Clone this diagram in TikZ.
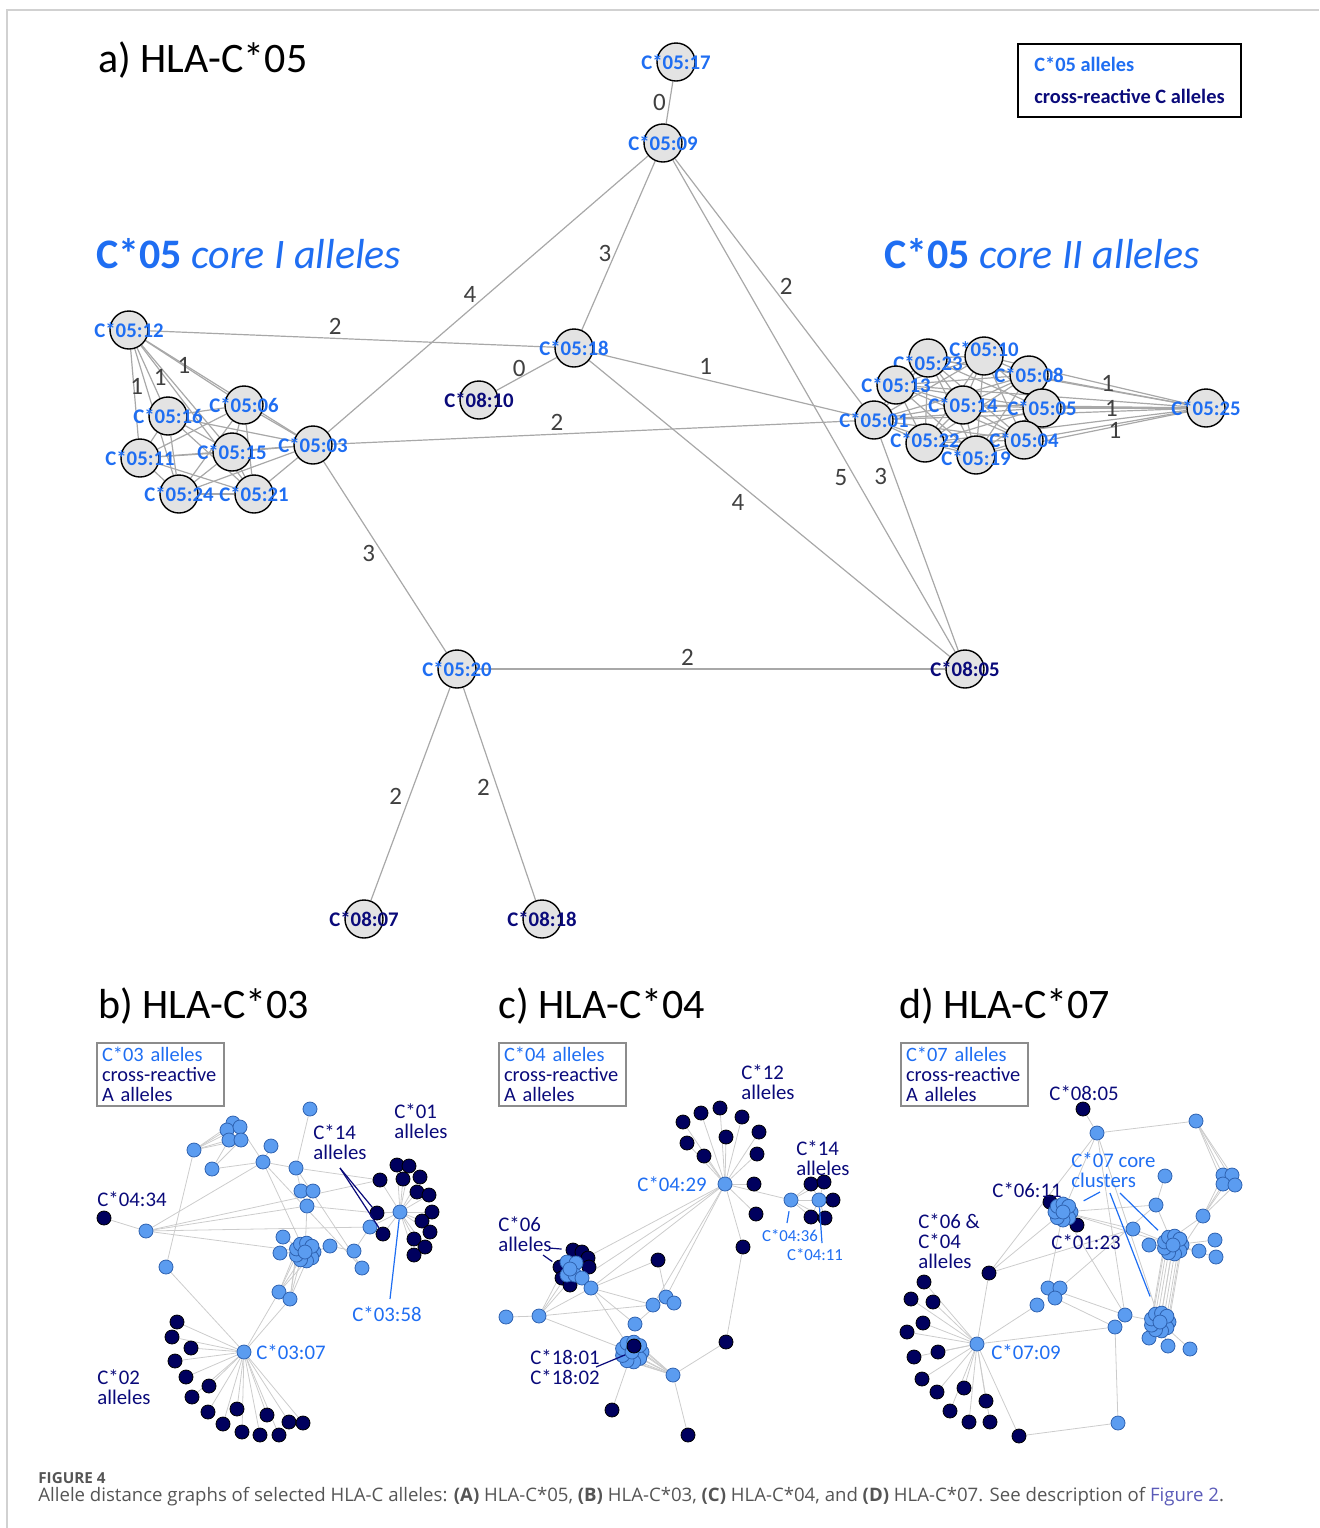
\documentclass[tikz,border=0pt]{standalone}
\usepackage{fontspec}
\setmainfont{Carlito}
\newfontfamily\capfont{Open Sans}
\usetikzlibrary{calc,backgrounds}

\definecolor{alblue}{HTML}{1F6EF2}
\definecolor{alnavy}{HTML}{0A0A7A}
\definecolor{nodegray}{HTML}{E3E3E3}
\definecolor{edgegray}{HTML}{A8A8A8}
\definecolor{litegray}{HTML}{CCCCCC}
\definecolor{ltblue}{HTML}{5B9CF0}
\definecolor{ltrim}{HTML}{2F62B0}
\definecolor{dkblue}{HTML}{00005E}
\definecolor{capgray}{HTML}{555555}
\definecolor{figlink}{HTML}{5A5AB8}

\tikzset{
  anode/.style={circle, draw=black, line width=0.7pt, fill=nodegray, minimum size=19pt, inner sep=0pt},
  alab/.style={font=\fontsize{10.4}{12}\selectfont\bfseries, inner sep=0pt},
  c05/.style={anode, label={[alab, text=alblue]center:#1}},
  c08/.style={anode, label={[alab, text=alnavy]center:#1}},
  aedge/.style={draw=edgegray, line width=0.6pt},
  elab/.style={font=\fontsize{12.5}{13}\selectfont, text=black!75, inner sep=1.5pt},
  ptitle/.style={font=\fontsize{21}{24}\selectfont, anchor=base west, inner sep=0pt},
  corehd/.style={font=\fontsize{21}{24}\selectfont, text=alblue, anchor=base west, inner sep=0pt},
  lnode/.style={circle, draw=ltrim, line width=0.4pt, fill=ltblue, minimum size=7pt, inner sep=0pt},
  dnode/.style={circle, draw=black, line width=0.4pt, fill=dkblue, minimum size=7pt, inner sep=0pt},
  bedge/.style={draw=litegray, line width=0.4pt},
  btxt/.style={font=\fontsize{10.4}{10}\selectfont, align=left, inner sep=0pt},
  navyptr/.style={draw=alnavy, line width=0.6pt},
  blueptr/.style={draw=alblue, line width=0.6pt},
  smleg/.style={draw=black!45, line width=0.6pt, minimum width=63.5pt, minimum height=31.5pt,
    text width=58.5pt, inner xsep=2.5pt, inner ysep=0pt, align=left, font=\fontsize{10.2}{10}\selectfont}
}

\begin{document}
\begin{tikzpicture}[x=0.5pt, y=-0.5pt]
\useasboundingbox (0,0) rectangle (1319,1528);
\draw[black!18, line width=0.7pt] (7,1528) -- (7,10) -- (1319,10);

% ---------------- a) HLA-C*05
\node[ptitle] (ta) at (98,72) {a) HLA-C*05};
\node[draw=black, line width=0.8pt, minimum width=111.5pt, minimum height=36.5pt, inner sep=0pt,
  align=left, font=\fontsize{10.2}{16}\selectfont\bfseries] (lga)
  at (1129.5,80.5) {\textcolor{alblue}{C*05 alleles}\\\textcolor{alnavy}{cross-reactive C alleles}};
\node[corehd] (hdI) at (96,268) {\textbf{C*05} \textit{core I alleles}};
\node[corehd] (hdII) at (884,268) {\textbf{C*05} \textit{core II alleles}};

\node[c05=C*05:17] (n0517) at (676,62) {};
\node[c05=C*05:09] (n0509) at (663,143) {};
\node[c05=C*05:18] (n0518) at (574,348) {};
\node[c08=C*08:10] (n0810) at (479,400) {};
% core I
\node[c05=C*05:12] (n0512) at (129,330) {};
\node[c05=C*05:16] (n0516) at (168,416) {};
\node[c05=C*05:06] (n0506) at (244,405) {};
\node[c05=C*05:11] (n0511) at (140,458) {};
\node[c05=C*05:15] (n0515) at (232,452) {};
\node[c05=C*05:03] (n0503) at (313,445) {};
\node[c05=C*05:24] (n0524) at (179,494) {};
\node[c05=C*05:21] (n0521) at (254,494) {};
% core II
\node[anode, label={[alab, text=alblue, yshift=-2.5pt]center:C*05:23}] (n0523) at (928,358) {};
\node[anode, label={[alab, text=alblue, yshift=3.5pt]center:C*05:10}] (n0510) at (984,356) {};
\node[c05=C*05:08] (n0508) at (1029,375) {};
\node[c05=C*05:13] (n0513) at (896,385) {};
\node[c05=C*05:14] (n0514) at (963,405) {};
\node[c05=C*05:05] (n0505) at (1042,408) {};
\node[c05=C*05:01] (n0501) at (874,420) {};
\node[anode, label={[alab, text=alblue, yshift=1.5pt]center:C*05:22}] (n0522) at (925,443) {};
\node[c05=C*05:04] (n0504) at (1024,440) {};
\node[anode, label={[alab, text=alblue, yshift=-1.5pt]center:C*05:19}] (n0519) at (976,455) {};
\node[c05=C*05:25] (n0525) at (1206,408) {};
% lower part
\node[c05=C*05:20] (n0520) at (457,669) {};
\node[c08=C*08:05] (n0805) at (965,669) {};
\node[c08=C*08:07] (n0807) at (364,919) {};
\node[c08=C*08:18] (n0818) at (542,919) {};

\begin{scope}[on background layer]
  \draw[aedge] (n0517) -- node[elab, left] {0} (n0509);
  \draw[aedge] (n0509) -- node[elab, pos=.55, left] {3} (n0518);
  \draw[aedge] (n0509) -- node[elab, pos=.5, left=4pt] {4} (n0503);
  \draw[aedge] (n0509) -- node[elab, pos=.52, right=2pt] {2} (n0501);
  \draw[aedge] (n0509) -- node[elab, pos=.645, left=2pt] {5} (n0805);
  \draw[aedge] (n0501) -- node[elab, pos=.18, left=2pt] {3} (n0805);
  \draw[aedge] (n0512) -- node[elab, pos=.46, above] {2} (n0518);
  \draw[aedge] (n0518) -- node[elab, pos=.62, above=-1pt] {0} (n0810);
  \draw[aedge] (n0518) -- node[elab, pos=.43, above=1pt] {1} (n0501);
  \draw[aedge] (n0503) -- node[elab, pos=.43, above] {2} (n0501);
  \draw[aedge] (n0518) -- node[elab, pos=.44, below left] {4} (n0805);
  \draw[aedge] (n0503) -- node[elab, pos=.48, left=2pt] {3} (n0520);
  \draw[aedge] (n0520) -- node[elab, pos=.45, above] {2} (n0805);
  \draw[aedge] (n0520) -- node[elab, pos=.51, left=2pt] {2} (n0807);
  \draw[aedge] (n0520) -- node[elab, pos=.47, left=2pt] {2} (n0818);
  % core I clique
  \foreach \u [count=\i] in {n0512,n0516,n0506,n0511,n0515,n0503,n0524,n0521}
    \foreach \v [count=\j] in {n0512,n0516,n0506,n0511,n0515,n0503,n0524,n0521}
      {\ifnum\i<\j \draw[aedge] (\u) -- (\v); \fi}
  \path (n0512) -- node[elab, pos=.47] {1} (n0506);
  \path (n0512) -- node[elab, pos=.24, xshift=-2.5pt] {1} (n0521);
  \path (n0512) -- node[elab, pos=.41, xshift=1.5pt] {1} (n0511);
  % core II clique
  \foreach \u [count=\i] in {n0523,n0510,n0508,n0513,n0514,n0505,n0501,n0522,n0504,n0519}
    {\draw[aedge] (\u) -- (n0525);
     \foreach \v [count=\j] in {n0523,n0510,n0508,n0513,n0514,n0505,n0501,n0522,n0504,n0519}
      {\ifnum\i<\j \draw[aedge] (\u) -- (\v); \fi}}
  \path (n0508) -- node[elab, pos=.43, yshift=3pt] {1} (n0525);
  \path (n0505) -- node[elab, pos=.4] {1} (n0525);
  \path (n0504) -- node[elab, pos=.5, yshift=-3pt] {1} (n0525);
\end{scope}

% ---------------- b) HLA-C*03
\node[ptitle] (tb) at (98,1018) {b) HLA-C*03};
\node[smleg] (lgb) at (160.5,1074.5) {\textcolor{alblue}{C*03 alleles}\\\textcolor{alnavy}{cross-reactive}\\\textcolor{alnavy}{A alleles}};
\node[dnode] (b0) at (104,1218) {};
\foreach \p [count=\i] in {{(380,1180)},{(377,1213)},{(383,1234)}}
  \node[dnode] (bK\i) at \p {};
\foreach \p [count=\i] in {{(397,1165)},{(409,1166)},{(403,1179)},{(420,1177)},{(417,1192)},{(429,1195)},
  {(432,1212)},{(422,1221)},{(430,1232)},{(414,1239)},{(425,1247)},{(414,1255)}}
  \node[dnode] (bA\i) at \p {};
\foreach \p [count=\i] in {{(177,1322)},{(172,1337)},{(191,1348)},{(175,1361)},{(186,1377)},{(209,1386)},
  {(192,1397)},{(208,1412)},{(237,1409)},{(223,1424)},{(267,1415)},{(242,1432)},{(260,1435)},{(279,1435)},
  {(289,1422)},{(303,1423)}}
  \node[dnode] (bB\i) at \p {};
\foreach \n/\p in {b1/{(310,1109)}, bt1/{(233,1123)}, bt2/{(227,1130)}, bt3/{(240,1127)}, bt4/{(229,1140)},
  bt5/{(241,1140)}, b3/{(194,1150)}, b4/{(212,1169)}, b5/{(271,1146)}, b6/{(263,1162)}, b7/{(296,1168)},
  b8/{(301,1191)}, b9/{(313,1191)}, b10/{(307,1206)}, b11/{(146,1231)}, b12/{(166,1267)}, b13/{(283,1237)},
  b14/{(280,1253)}, b15/{(330,1246)}, b16/{(354,1251)}, b17/{(362,1268)}, b18/{(370,1227)}, b19/{(400,1212)},
  b20/{(279,1292)}, b21/{(290,1299)}, b22/{(244,1352)}}
  \node[lnode] (\n) at \p {};
\foreach \a [count=\i] in {0,40,...,320}
  \node[lnode] (bc\i) at ($(305,1252)+(\a:9)$) {};
\node[lnode] (bc0) at (305,1252) {};

\node[btxt, text=alnavy, anchor=west] (tb14) at (313,1142) {C*14\\alleles};
\node[btxt, text=alnavy, anchor=west] (tb01) at (394,1121) {C*01\\alleles};
\node[btxt, text=alnavy, anchor=west] (tb0434) at (97,1199) {C*04:34};
\node[btxt, text=alblue, anchor=west] (tb0358) at (352,1314) {C*03:58};
\node[btxt, text=alblue, anchor=west] (tb0307) at (256,1352) {C*03:07};
\node[btxt, text=alnavy, anchor=west] (tb02) at (97,1387) {C*02\\alleles};
\coordinate (pb14) at (340,1168);
\coordinate (pb0358) at (390,1299);
\draw[navyptr] (pb14) -- (bK2);
\draw[navyptr] (pb14) -- (bK3);
\draw[blueptr] (pb0358) -- (b19);

\begin{scope}[on background layer]
  \foreach \u/\v in {b0/b11, b11/b18, b11/b10, b11/bc0, b11/b6, b11/bK1, b3/b12, b12/b22, b4/bt4, b4/bt5,
    b4/b6, bt3/b6, b5/b6, b6/b7, b6/bc0, b6/b17, b1/b7, b7/bK1, b7/b17, b7/b8, b8/b10, b9/b10, b10/bc0,
    b10/bK2, bc0/b13, bc0/b14, bc1/b15, b15/b16, b16/b18, b18/b19, b20/b22, b21/b22}
    \draw[bedge] (\u) -- (\v);
  \foreach \i in {1,...,5} \draw[bedge] (b3) -- (bt\i);
  \foreach \i in {3,4,5,6} {\draw[bedge] (bc\i) -- (b20); \draw[bedge] (bc\i) -- (b21);}
  \foreach \i in {1,...,12} \draw[bedge] (b19) -- (bA\i);
  \foreach \i in {1,2,3} \draw[bedge] (b19) -- (bK\i);
  \foreach \i in {1,...,16} \draw[bedge] (b22) -- (bB\i);
\end{scope}

% ---------------- c) HLA-C*04
\node[ptitle] (tc) at (498,1018) {c) HLA-C*04};
\node[smleg] (lgc) at (562.5,1074.5) {\textcolor{alblue}{C*04 alleles}\\\textcolor{alnavy}{cross-reactive}\\\textcolor{alnavy}{A alleles}};
\foreach \p [count=\i] in {{(683,1122)},{(701,1113)},{(720,1108)},{(742,1117)},{(759,1132)},{(687,1143)},
  {(726,1137)},{(704,1156)},{(757,1154)},{(754,1184)},{(756,1214)}}
  \node[dnode] (cA\i) at \p {};
\foreach \p [count=\i] in {{(811,1184)},{(824,1182)},{(833,1200)},{(811,1217)},{(825,1218)}}
  \node[dnode] (cB\i) at \p {};
\foreach \p [count=\i] in {{(573,1250)},{(582,1252)},{(588,1258)},{(589,1267)},{(560,1267)},{(562,1278)},{(570,1285)}}
  \node[dnode] (cD\i) at \p {};
\foreach \n/\p in {cd1/{(743,1247)}, cd2/{(658,1260)}, cd3/{(726,1342)}, cd4/{(612,1410)}, cd5/{(688,1435)}}
  \node[dnode] (\n) at \p {};
\foreach \p [count=\i] in {{(567,1262)},{(576,1263)},{(567,1275)},{(575,1275)},{(582,1278)},{(570,1269)}}
  \node[lnode] (cL\i) at \p {};
\foreach \n/\p in {c1/{(725,1184)}, c2/{(791,1200)}, c3/{(819,1200)}, c4/{(591,1288)}, c5/{(506,1317)},
  c6/{(539,1316)}, c7/{(653,1305)}, c8/{(666,1297)}, c9/{(674,1303)}, c10/{(635,1324)}, c11/{(673,1375)}}
  \node[lnode] (\n) at \p {};
\foreach \a [count=\i] in {0,40,...,320}
  \node[lnode] (cc\i) at ($(632,1352)+(\a:10)$) {};
\node[lnode] (cc0) at (632,1352) {};
\node[dnode] (cd6) at (634,1346) {};

\node[btxt, text=alnavy, anchor=west] (tc12) at (741,1082) {C*12\\alleles};
\node[btxt, text=alnavy, anchor=west] (tc14) at (796,1158) {C*14\\alleles};
\node[btxt, text=alblue, anchor=east] (tc0429) at (707,1184) {C*04:29};
\node[btxt, text=alblue, font=\fontsize{8.4}{10}\selectfont] (tc0436) at (790,1236) {C*04:36};
\node[btxt, text=alblue, font=\fontsize{8.4}{10}\selectfont] (tc0411) at (815,1255) {C*04:11};
\node[btxt, text=alnavy, anchor=west] (tc06) at (498,1234) {C*06\\alleles};
\node[btxt, text=alnavy, anchor=west] (tc18) at (530,1367) {C*18:01\\C*18:02};
\coordinate (pc0436) at (787,1223);
\coordinate (pc0411) at (822,1243);
\coordinate (pc06a) at (549,1248);
\coordinate (pc06b) at (543,1255);
\coordinate (pc18) at (596,1367);
\draw[blueptr, shorten >=2pt] (pc0436) -- (c2);
\draw[blueptr] (pc0411) -- (c3);
\draw[navyptr, shorten >=2pt] (pc06a) -- (cD1);
\draw[navyptr, shorten >=1pt] (pc06b) -- (cD5);
\draw[navyptr] (pc18) -- (cc0);

\begin{scope}[on background layer]
  \foreach \i in {1,...,11} \draw[bedge] (c1) -- (cA\i);
  \foreach \i in {1,...,5} {\draw[bedge] (c2) -- (cB\i); \draw[bedge] (c3) -- (cB\i);}
  \foreach \u/\v in {c1/c2, c2/c3, c1/cL2, c1/cL5, c1/c4, c1/c7, c1/c8, c1/cd1, cd1/cd3, cd3/c11, c11/cd5,
    cc0/cd4, c6/c5, c6/cL1, c6/cL3, c6/cc0, c6/c7, c6/c4, c4/c10, c4/c7, c4/cd2, cd2/c8, c10/c8, c4/cc0,
    cL5/c4, cL4/c6}
    \draw[bedge] (\u) -- (\v);
  \foreach \i in {1,...,9} \draw[bedge] (cc\i) -- (c11);
\end{scope}

% ---------------- d) HLA-C*07
\node[ptitle] (td) at (899,1018) {d) HLA-C*07};
\node[smleg] (lgd) at (964.5,1074.5) {\textcolor{alblue}{C*07 alleles}\\\textcolor{alnavy}{cross-reactive}\\\textcolor{alnavy}{A alleles}};
\foreach \p [count=\i] in {{(924,1282)},{(911,1299)},{(933,1302)},{(923,1323)},{(907,1332)},{(938,1352)},
  {(914,1357)},{(922,1379)},{(964,1388)},{(937,1392)},{(986,1401)},{(950,1411)},{(969,1422)},{(990,1422)}}
  \node[dnode] (dE\i) at \p {};
\foreach \n/\p in {dd1/{(1083,1109)}, dd2/{(1050,1202)}, dd3/{(1077,1225)}, dd4/{(989,1273)}, dd5/{(1019,1436)}}
  \node[dnode] (\n) at \p {};
\foreach \n/\p in {d1/{(1097,1133)}, d2/{(1196,1121)}, dT1/{(1223,1175)}, dT2/{(1232,1175)}, dT3/{(1223,1184)},
  dT4/{(1235,1185)}, d3/{(1165,1176)}, d4/{(1156,1205)}, d5/{(1203,1216)}, d6/{(1133,1229)}, d7/{(1149,1245)},
  d8/{(1215,1240)}, d9/{(1199,1251)}, d10/{(1216,1257)}, d11/{(1048,1288)}, d12/{(1060,1288)},
  d13/{(1055,1298)}, d14/{(1037,1305)}, d15/{(1125,1315)}, d16/{(1115,1327)}, d17/{(1149,1338)},
  d18/{(1168,1346)}, d19/{(1190,1349)}, d20/{(977,1344)}, d21/{(1118,1423)}}
  \node[lnode] (\n) at \p {};
\foreach \a [count=\i] in {0,45,...,315}
  \node[lnode] (dA\i) at ($(1063,1212)+(\a:8)$) {};
\node[lnode] (dA0) at (1063,1212) {};
\foreach \a [count=\i] in {0,40,...,320}
  \node[lnode] (dB\i) at ($(1173,1245)+(\a:9)$) {};
\node[lnode] (dB0) at (1173,1245) {};
\foreach \a [count=\i] in {0,40,...,320}
  \node[lnode] (dC\i) at ($(1160,1322)+(\a:9)$) {};
\node[lnode] (dC0) at (1160,1322) {};

\node[btxt, text=alnavy] (td0805) at (1084,1093) {C*08:05};
\node[btxt, text=alblue, anchor=west] (tdcore) at (1071,1170) {C*07 core\\clusters};
\node[btxt, text=alnavy] (td0611) at (1027,1190) {C*06:11};
\node[btxt, text=alnavy] (td0123) at (1086,1242) {C*01:23};
\node[btxt, text=alnavy, anchor=west] (td0604) at (918,1241) {C*06 \&\\C*04\\alleles};
\node[btxt, text=alblue, anchor=west] (td0709) at (991,1352) {C*07:09};
\coordinate (pdA) at (1100,1192);
\coordinate (pdB) at (1110,1193);
\coordinate (pdC) at (1120,1193);
\draw[blueptr, shorten >=8pt] (pdA) -- (dA0);
\draw[blueptr, shorten >=10pt] (pdB) -- (dC0);
\draw[blueptr, shorten >=6.8pt] (pdC) -- (dB0);

\begin{scope}[on background layer]
  \foreach \u/\v in {dd1/d1, d1/d2, d1/dA0, d1/dC0, d1/d15, dd4/d1, dd4/dA0, dd4/d6, dd4/d20, d20/d14,
    d20/d16, d20/dd5, dd5/d21, d21/d16, d3/d4, d4/dA0, d4/dB0, d6/dB0, d7/dB0, d11/d15, d11/dA0, d12/d4,
    d15/dC0, dA0/d15, dA0/dB0, dA0/d6, d13/d16, dB0/d8, dB0/d9, dB0/d10, dC0/d17, dC0/d18, dC0/d19,
    d5/dB2, d5/dB8}
    \draw[bedge] (\u) -- (\v);
  \foreach \i in {1,...,4} {\draw[bedge] (d2) -- (dT\i); \draw[bedge] (dT\i) -- (d5);}
  \foreach \i in {1,...,14} \draw[bedge] (d20) -- (dE\i);
  \foreach \i in {0,...,9} \draw[bedge] (dB\i) -- (dC\i);
\end{scope}

% ---------------- caption
\node[anchor=west, inner sep=0pt, text=capgray, font=\capfont\fontsize{7.6}{9}\selectfont\bfseries] (fig)
  at (38,1478) {FIGURE 4};
\node[anchor=west, inner sep=0pt, text=capgray, font=\capfont\fontsize{9.3}{11}\selectfont] (cap)
  at (38,1497) {Allele distance graphs of selected HLA-C alleles: \textbf{(A)} HLA-C*05, \textbf{(B)} HLA-C*03, \textbf{(C)} HLA-C*04, and \textbf{(D)} HLA-C*07. See description of \textcolor{figlink}{Figure 2}.};
\end{tikzpicture}
\end{document}
